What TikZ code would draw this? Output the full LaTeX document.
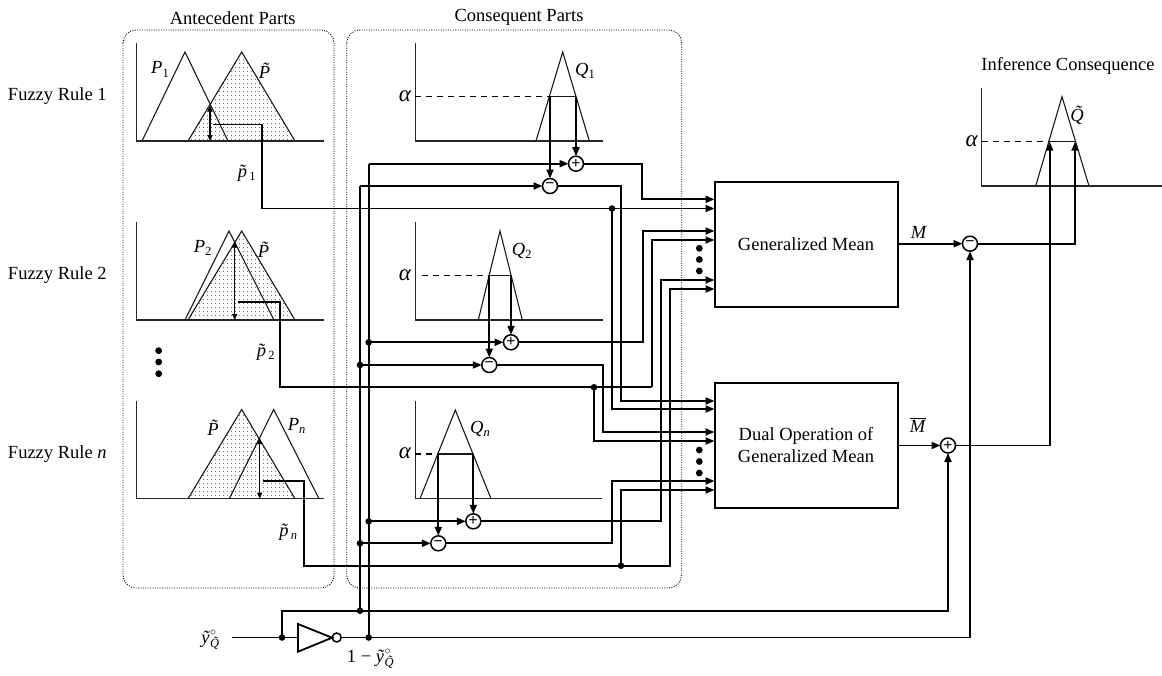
\documentclass[tikz,border=0pt]{standalone}
\usepackage{fontspec}
\setmainfont{Liberation Serif}
\usetikzlibrary{arrows.meta,patterns.meta}
\newcommand{\itl}[1]{\textit{#1}}
\newcommand{\ptil}{\textit{P̃}}
\newcommand{\lowsub}[1]{\raisebox{-3.2pt}{\fontsize{12.5}{12.5}\selectfont #1}}
\begin{document}
\begin{tikzpicture}[x=1pt,y=-1pt,
  font=\fontsize{18.5}{22}\selectfont,
  every node/.style={inner sep=0pt,outer sep=0pt},
  groupbox/.style={draw,line width=0.9pt,dash pattern=on 1pt off 1.4pt,rounded corners=13pt},
  axis/.style={line width=1.1pt,draw=black!85},
  tri/.style={line width=1.1pt,draw=black!90},
  dotfill/.style={pattern={Dots[distance=4pt,radius=0.55pt]},pattern color=black},
  wire/.style={line width=1.8pt},
  arr/.style={wire,-{Triangle[length=9pt,width=7pt]}},
  marr/.style={line width=1.2pt,{Triangle[length=6pt,width=5pt]}-{Triangle[length=6pt,width=5pt]}},
  dashline/.style={line width=1.1pt,dash pattern=on 6pt off 5pt},
  jdot/.style={circle,fill=black,minimum size=6.6pt},
  bigdot/.style={circle,fill=black,minimum size=6.8pt},
  sumnode/.style={circle,draw,line width=1.5pt,minimum size=15pt,fill=white,font=\fontsize{16}{16}\selectfont\bfseries},
  block/.style={draw,line width=1.8pt,align=center,anchor=north west},
  greek/.style={font=\fontsize{23}{23}\selectfont\itshape},
]
\useasboundingbox (0,0) rectangle (1162,675);

% group boxes
\draw[groupbox] (123,30) rectangle (334,588);
\draw[groupbox] (346.7,30) rectangle (681.7,588);
\node (tA) at (232.7,18) {Antecedent Parts};
\node (tC) at (519,17) {Consequent Parts};
\node (tI) at (1068,66) {Inference Consequence};
\node[anchor=west] (r1) at (8,96) {Fuzzy Rule 1};
\node[anchor=west] (r2) at (8,275) {Fuzzy Rule 2};
\node[anchor=west] (r3) at (8,454) {Fuzzy Rule \itl{n}};

% antecedent plots
\draw[axis] (136.5,43) -- (136.5,141) -- (324,141);
\draw[tri,dotfill] (188,141) -- (241.7,52) -- (295,141);
\draw[tri] (142,141) -- (185,52) -- (228,141);
\draw[axis] (136.5,222) -- (136.5,320) -- (324,320);
\draw[tri,dotfill] (188,320) -- (241.7,231) -- (295,320);
\draw[tri] (185,320) -- (229,231) -- (274,320);
\draw[axis] (136.5,401) -- (136.5,498.7) -- (324,498.7);
\draw[tri,dotfill] (188,498.7) -- (241.7,409.5) -- (295,498.7);
\draw[tri] (229.3,498.7) -- (273.7,409.5) -- (319,498.7);

\draw[marr] (210,105.5) -- (210,141);
\draw[marr] (234.7,241.5) -- (234.7,320);
\draw[marr] (259.7,438) -- (259.7,498.7);

\node (lP1) at (160,69.5) {\itl{P}\lowsub{1}};
\node (lPt1) at (268.3,71) {\ptil};
\node (lp1) at (246.7,173.5) {\itl{p̃}\kern-5pt\lowsub{1}};
\node (lP2) at (202.7,248) {\itl{P}\lowsub{2}};
\node (lPt2) at (267.3,250) {\ptil};
\node (lp2) at (265.7,352.5) {\itl{p̃}\kern-5pt\lowsub{2}};
\node (lPn) at (296.7,425.7) {\itl{P}\lowsub{\itl{n}}};
\node (lPt3) at (216.7,428) {\ptil};
\node (lpn) at (288.3,532) {\itl{p̃}\kern-5pt\lowsub{\itl{n}}};
\node[bigdot] (vd1) at (158.7,350.7) {};
\node[bigdot] (vd2) at (158.7,362) {};
\node[bigdot] (vd3) at (158.7,373.7) {};

% consequent plots
\draw[axis] (415.3,43) -- (415.3,141) -- (603.3,141);
\draw[tri] (536,141) -- (562.7,52) -- (589.3,141);
\draw[dashline] (415.3,96.7) -- (550,96.7);
\draw[tri] (550,96.7) -- (576,96.7);
\draw[axis] (415.3,222) -- (415.3,320) -- (603,320);
\draw[tri] (478.3,320) -- (500,231) -- (522.3,320);
\draw[dashline] (421.7,275.7) -- (489.3,275.7);
\draw[tri] (489.3,275.7) -- (511,275.7);
\draw[axis] (415.3,401) -- (415.3,498.7) -- (602,498.7);
\draw[tri] (420,498.7) -- (455.3,410) -- (491,498.7);
\draw[dashline] (415.3,454) -- (438.3,454);
\draw[tri] (438.3,454) -- (473.3,454);
\node[greek] (a1) at (405,96) {α};
\node[greek] (a2) at (405,275) {α};
\node[greek] (a3) at (405,453) {α};
\node (lQ1) at (585,71) {\itl{Q}\lowsub{1}};
\node (lQ2) at (521.7,251) {\itl{Q}\lowsub{2}};
\node (lQn) at (480,428.5) {\itl{Q}\lowsub{\itl{n}}};

% result plot
\draw[axis] (981.7,88.3) -- (981.7,186) -- (1162,186);
\draw[tri] (1035.7,186) -- (1062,96.7) -- (1089,186);
\draw[dashline] (981.7,141.7) -- (1049.7,141.7);
\draw[tri] (1049.7,141.7) -- (1075,141.7);
\node[greek] (a4) at (971.7,141) {α};
\node (lQt) at (1080.7,115) {\itl{Q̃}};

% blocks
\node[block,minimum width=183pt,minimum height=125pt] (gm) at (715,182) {};
\node (gmt) at (806,244.5) {Generalized Mean};
\node[block,minimum width=183pt,minimum height=125.5pt] (dm) at (715,382.7) {};
\node[align=center] (dmt) at (806,445) {Dual Operation of\\Generalized Mean};
\node[bigdot] (gd1) at (699.3,248.3) {};
\node[bigdot] (gd2) at (699.3,259.5) {};
\node[bigdot] (gd3) at (699.3,271) {};
\node[bigdot] (dd1) at (699.3,450) {};
\node[bigdot] (dd2) at (699.3,461.5) {};
\node[bigdot] (dd3) at (699.3,473) {};

% summing points
\node[sumnode] (p1) at (576,163.7) {+};
\node[sumnode] (m1) at (550,186) {−};
\node[sumnode] (p2) at (511,342.3) {+};
\node[sumnode] (m2) at (489.3,365) {−};
\node[sumnode] (p3) at (473.3,521.3) {+};
\node[sumnode] (m3) at (438.3,543.3) {−};
\node[sumnode] (mo) at (970,243.7) {−};
\node[sumnode] (po) at (948,445.5) {+};

% junctions
\node[jdot] (jp1) at (612,208.5) {};
\node[jdot] (jp2) at (594,387.3) {};
\node[jdot] (jpn) at (621,565.7) {};
\node[jdot] (ja2) at (368.7,342.3) {};
\node[jdot] (ja3) at (368.7,521.3) {};
\node[jdot] (ja4) at (368.7,637.5) {};
\node[jdot] (jb2) at (360,365) {};
\node[jdot] (jb3) at (360,543.3) {};
\node[jdot] (jb4) at (360,610.7) {};
\node[jdot] (jin) at (282,637.5) {};

% start points of the level arrows
\coordinate (q1a) at (550,96.7);
\coordinate (q1b) at (576,96.7);
\coordinate (q2a) at (489.3,275.7);
\coordinate (q2b) at (511,275.7);
\coordinate (q3a) at (438.3,454);
\coordinate (q3b) at (473.3,454);
\draw[arr] (q1a) -- (m1);
\draw[arr] (q1b) -- (p1);
\draw[arr] (q2a) -- (m2);
\draw[arr] (q2b) -- (p2);
\draw[arr] (q3a) -- (m3);
\draw[arr] (q3b) -- (p3);

% vertical rails
\coordinate (ra) at (368.7,163.7);
\coordinate (rb) at (360,186);
\draw[wire] (ra) -- (ja4.center);
\draw[wire] (rb) -- (jb4.center);
\draw[arr] (ra) -- (p1);
\draw[arr] (rb) -- (m1);
\draw[arr] (ja2.center) -- (p2);
\draw[arr] (jb2.center) -- (m2);
\draw[arr] (ja3.center) -- (p3);
\draw[arr] (jb3.center) -- (m3);

% inputs of the generalized mean
\coordinate (g1) at (714.5,199.3);
\coordinate (g2) at (714.5,208.5);
\coordinate (g3) at (714.5,231);
\coordinate (g4) at (714.5,240);
\coordinate (g5) at (714.5,280);
\coordinate (g6) at (714.5,289);
% inputs of the dual operation
\coordinate (d1) at (714.5,401);
\coordinate (d2) at (714.5,409);
\coordinate (d3) at (714.5,432);
\coordinate (d4) at (714.5,441);
\coordinate (d5) at (714.5,481);
\coordinate (d6) at (714.5,490);

\draw[arr] (p1) -- (642.3,163.7) -- (642.3,199.3) -- (g1);
\coordinate (s1) at (213,124.5);
\draw[arr] (s1) -- (261.7,124.5) -- (261.7,208.5) -- (g2);
\draw[arr] (p2) -- (643.3,342.3) -- (643.3,231) -- (g3);
\coordinate (s2) at (238.3,301.7);
\draw[wire] (s2) -- (280.3,301.7) -- (280.3,387.3) -- (652.3,387.3);
\draw[arr] (652.3,387.3) -- (652.3,240) -- (g4);
\draw[arr] (p3) -- (661,521.3) -- (661,280) -- (g5);
\coordinate (s3) at (263.3,481);
\draw[arr] (s3) -- (304.3,481) -- (304.3,565.7) -- (670,565.7) -- (670,289) -- (g6);

\draw[arr] (m1) -- (621,186) -- (621,401) -- (d1);
\draw[arr] (jp1.center) -- (612,409) -- (d2);
\draw[arr] (m2) -- (603,365) -- (603,432) -- (d3);
\draw[arr] (jp2.center) -- (594,441) -- (d4);
\draw[arr] (m3) -- (612.3,543.3) -- (612.3,481) -- (d5);
\draw[arr] (jpn.center) -- (621,490) -- (d6);

% inverter and global wires
\coordinate (y0) at (232,637.5);
\node[circle,draw,line width=1.5pt,minimum size=9pt] (bub) at (336.7,637.5) {};
\draw[wire,line join=miter] (298,624) -- (298,651.7) -- (332,637.7) -- cycle;
\draw[wire] (y0) -- (298,637.5);
\draw[wire] (jin.center) -- (282,610.7) -- (jb4.center);
\draw[arr] (jb4.center) -- (948,610.7) -- (po);
\draw[arr] (bub) -- (970,637.5) -- (mo);
\coordinate (tipa) at (1049.7,141.7);
\coordinate (tipb) at (1075,141.7);
\draw[arr] (gm.east |- mo) -- (mo);
\draw[arr] (dm.east |- po) -- (po);
\draw[arr] (mo) -- (1075,243.7) -- (tipb);
\draw[arr] (po) -- (1049.7,445.5) -- (tipa);

\node (lM) at (919,232) {\itl{M}};
\node (lMb) at (918,425) {$\overline{\mbox{\itl{M}}}$};
\node (ly) at (213,640) {$\mbox{\itl{ỹ}}^{\circ}_{\mbox{\fontsize{12.5}{12.5}\selectfont\itl{Q̃}}}$};
\node (lyc) at (373,659) {1 − $\mbox{\itl{ỹ}}^{\circ}_{\mbox{\fontsize{12.5}{12.5}\selectfont\itl{Q̃}}}$};
\end{tikzpicture}
\end{document}
